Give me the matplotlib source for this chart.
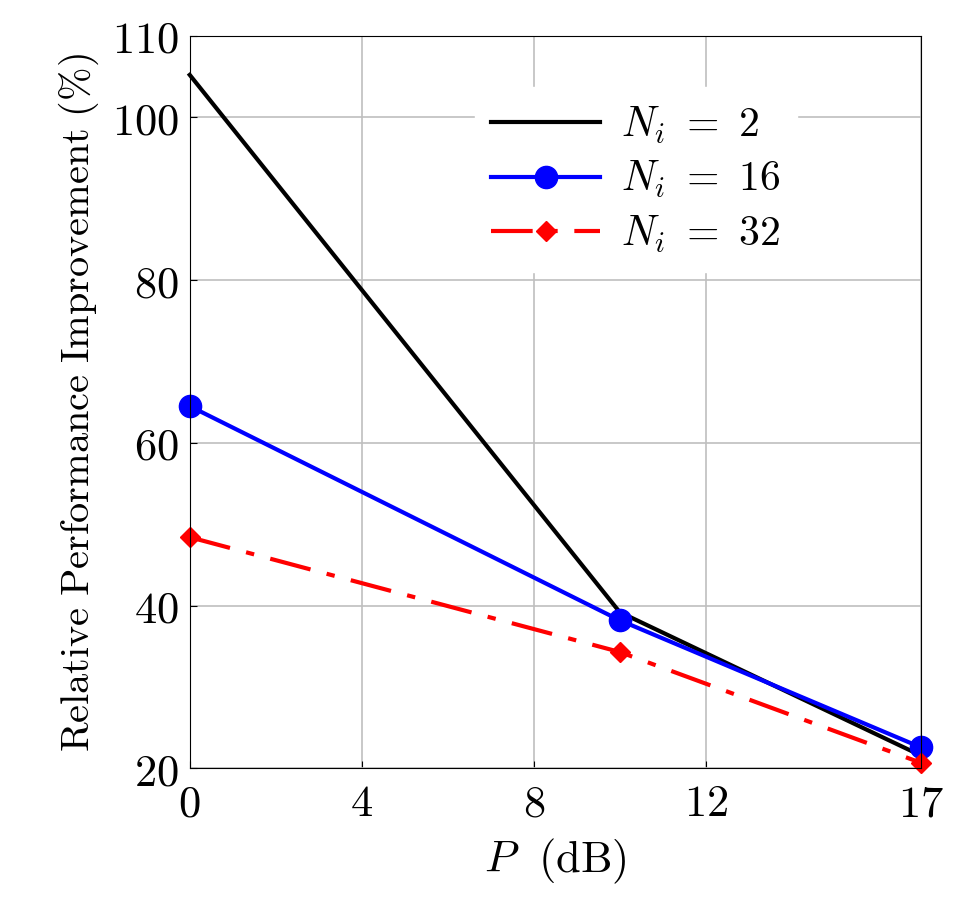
import matplotlib
matplotlib.use("Agg")
import matplotlib.pyplot as plt

plt.rcParams['mathtext.fontset'] = 'cm'
plt.rcParams['font.family'] = 'DejaVu Serif'

P = [0, 10, 17]
n2 = [105.2, 39.2, 21.6]
n16 = [64.5, 38.2, 22.6]
n32 = [48.4, 34.3, 20.7]
xticks = [0, 4, 8, 12, 17]
yticks = [20, 40, 60, 80, 100, 110]

fig = plt.figure(figsize=(9.68, 9.18), dpi=100)
ax = fig.add_axes([0.196, 0.163, 0.755, 0.798])
ax.plot(P, n2, color='black', lw=3, label=r'$N_i\ =\ 2$', clip_on=False)
ax.plot(P, n16, color='blue', lw=3, marker='o', ms=16, label=r'$N_i\ =\ 16$', clip_on=False)
ax.plot(P, n32, color='red', lw=3, marker='D', ms=10, dashes=[10, 4, 2, 4], label=r'$N_i\ =\ 32$', clip_on=False)
ax.set_xlim(0, 17)
ax.set_ylim(20, 110)
ax.set_xticks(xticks)
ax.set_xticklabels([r'$\mathrm{%d}$' % v for v in xticks])
ax.set_yticks(yticks)
ax.set_yticklabels([r'$\mathrm{%d}$' % v for v in yticks])
ax.tick_params(labelsize=32, direction='in', length=5)
ax.tick_params(axis='x', pad=10)
ax.tick_params(axis='y', pad=8)
ax.grid(True, color='#bfbfbf', lw=1.2)
ax.set_axisbelow(True)
ax.set_xlabel(r'$P\ \ \mathrm{(dB)}$', fontsize=32, labelpad=8)
ax.set_ylabel(r'$\mathrm{Relative\ Performance\ Improvement\ (\%)}$', fontsize=29, labelpad=8)
leg = ax.legend(loc='upper left', bbox_to_anchor=(0.39, 0.93), fontsize=30, frameon=True,
                handlelength=2.6, borderaxespad=0.0, labelspacing=0.3, handletextpad=0.5)
leg.get_frame().set_facecolor('white')
leg.get_frame().set_edgecolor('white')
leg.get_frame().set_alpha(1)
fig.savefig('out.png', dpi=100)
